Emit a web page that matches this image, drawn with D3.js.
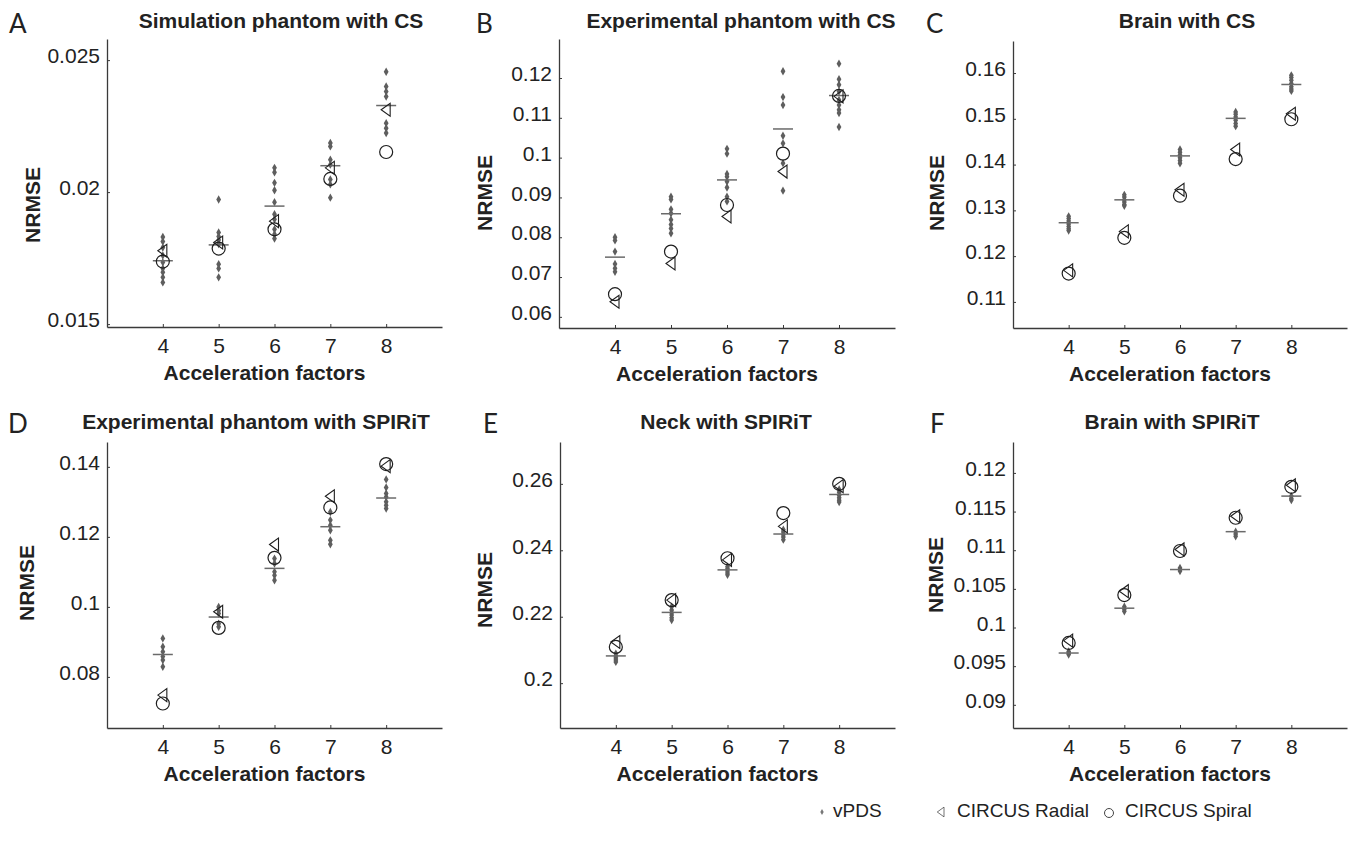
<!DOCTYPE html>
<html>
<head>
<meta charset="utf-8">
<script src="https://cdn.jsdelivr.net/npm/d3@7"></script>
<style>
  body { margin: 0; background: #fff; }
  text { font-family: "Liberation Sans", Arial, sans-serif; fill: #222; }
</style>
</head>
<body>
<script>
// acceleration factors on the x axis
var factors = [4, 5, 6, 7, 8];

var letters = ["A", "B", "C", "D", "E", "F"];
var titles = [
    "Simulation phantom with CS"
  , "Experimental phantom with CS"
  , "Brain with CS"
  , "Experimental phantom with SPIRiT"
  , "Neck with SPIRiT"
  , "Brain with SPIRiT"
];
var legendLabels = ["vPDS", "CIRCUS Radial", "CIRCUS Spiral"];

// y tick labels per panel
var yTicksA = [0.015, 0.02, 0.025]
  , yTicksB = [0.06, 0.07, 0.08, 0.09, 0.1, 0.11, 0.12]
  , yTicksC = [0.11, 0.12, 0.13, 0.14, 0.15, 0.16]
  , yTicksD = [0.08, 0.1, 0.12, 0.14]
  , yTicksE = [0.2, 0.22, 0.24, 0.26]
  , yTicksF = [0.09, 0.095, 0.1, 0.105, 0.11, 0.115, 0.12]
  ;

// A - Simulation phantom with CS
var vpdsA = [
    [0.0183, 0.01813, 0.0179, 0.0176, 0.01734, 0.01711, 0.01696, 0.01677, 0.01658]
  , [0.01972, 0.01847, 0.01832, 0.01819, 0.01803, 0.01727, 0.01711, 0.01677]
  , [0.02092, 0.02075, 0.02035, 0.02007, 0.01962, 0.01916, 0.01897, 0.01859, 0.0184, 0.01824]
  , [0.02186, 0.02173, 0.02123, 0.02104, 0.02048, 0.02029, 0.01979]
  , [0.02456, 0.024, 0.02381, 0.02362, 0.02261, 0.02242, 0.02224]
];
var meanA = [0.0174, 0.0180, 0.01947, 0.0210, 0.02328]
  , radialA = [0.01778, 0.01809, 0.0189, 0.02092, 0.02312]
  , spiralA = [0.01737, 0.01786, 0.01859, 0.0205, 0.02152]
  ;

// B - Experimental phantom with CS
var vpdsB = [
    [0.0800, 0.0792, 0.0764, 0.0733, 0.0722, 0.0713]
  , [0.0902, 0.0895, 0.0870, 0.0860, 0.0844, 0.0832, 0.0822, 0.0810]
  , [0.1022, 0.1010, 0.0959, 0.0952, 0.0940, 0.0925, 0.0902, 0.0890]
  , [0.1217, 0.1152, 0.1132, 0.1055, 0.1036, 0.0986, 0.0917]
  , [0.1236, 0.1197, 0.1183, 0.1166, 0.1145, 0.1132, 0.1120, 0.1112, 0.1077]
];
var meanB = [0.0750, 0.0859, 0.0944, 0.1072, 0.1156]
  , radialB = [0.0638, 0.0734, 0.0852, 0.0965, 0.1154]
  , spiralB = [0.0657, 0.0764, 0.0881, 0.1010, 0.1155]
  ;

// C - Brain with CS
var vpdsC = [
    [0.1287, 0.1282, 0.1277, 0.1270, 0.1265, 0.1260, 0.1256]
  , [0.1334, 0.1329, 0.1323, 0.1318, 0.1313, 0.1310]
  , [0.1433, 0.1427, 0.1421, 0.1415, 0.1409, 0.1403]
  , [0.1515, 0.1510, 0.1504, 0.1497, 0.1490, 0.1484]
  , [0.1595, 0.1590, 0.1584, 0.1577, 0.1570, 0.1565, 0.1561]
];
var meanC = [0.1273, 0.1323, 0.1419, 0.1501, 0.1575]
  , radialC = [0.1169, 0.1254, 0.1345, 0.1433, 0.1511]
  , spiralC = [0.1162, 0.1240, 0.1332, 0.1412, 0.1499]
  ;

// D - Experimental phantom with SPIRiT
var vpdsD = [
    [0.0910, 0.0886, 0.0872, 0.0858, 0.0848, 0.0829]
  , [0.1000, 0.0990, 0.0981, 0.0952, 0.0943]
  , [0.1138, 0.1124, 0.1100, 0.1090, 0.1076]
  , [0.1271, 0.1248, 0.1233, 0.1219, 0.1190, 0.1179]
  , [0.1364, 0.1341, 0.1324, 0.1314, 0.1300, 0.1290, 0.1281]
];
var meanD = [0.0864, 0.0971, 0.1110, 0.1229, 0.1311]
  , radialD = [0.0748, 0.0986, 0.1178, 0.1316, 0.1402]
  , spiralD = [0.0724, 0.0940, 0.1140, 0.1284, 0.1408]
  ;

// E - Neck with SPIRiT
var vpdsE = [
    [0.2089, 0.2082, 0.2076, 0.2070, 0.2064]
  , [0.2230, 0.2220, 0.2212, 0.2205, 0.2197, 0.2190]
  , [0.2351, 0.2345, 0.2338, 0.2332, 0.2326]
  , [0.2462, 0.2455, 0.2447, 0.2440, 0.2432]
  , [0.2583, 0.2575, 0.2566, 0.2558, 0.2551, 0.2545]
];
var meanE = [0.2082, 0.2213, 0.2341, 0.2449, 0.2568]
  , radialE = [0.2124, 0.2250, 0.2371, 0.2472, 0.2593]
  , spiralE = [0.2109, 0.2250, 0.2376, 0.2512, 0.2600]
  ;

// F - Brain with SPIRiT
var vpdsF = [
    [0.0969, 0.0967, 0.0965]
  , [0.1027, 0.1024, 0.1021]
  , [0.1077, 0.1075, 0.1073]
  , [0.1124, 0.1121, 0.1118]
  , [0.1170, 0.1167, 0.1165]
];
var meanF = [0.0967, 0.1025, 0.1075, 0.1124, 0.1170]
  , radialF = [0.0983, 0.1047, 0.1101, 0.1144, 0.1184]
  , spiralF = [0.0980, 0.1042, 0.1099, 0.1142, 0.1182]
  ;

var width = 1351
  , height = 843
  , axisColor = "#3a3a3a"
  , dotColor = "#5e5e5e"
  , markColor = "#1e1e1e"
  , fontSize = "21px"
  ;

// layout: plot box and y range of each panel, plus label spots
var panels = [
    { left: 107, right: 442, top: 39, bottom: 327, ydom: [0.01489, 0.0258], ticks: yTicksA, vpds: vpdsA, mean: meanA, radial: radialA, spiral: spiralA, lx: 9, ly: 33, tx: 281, ty: 28, nx: 33, ny: 205 }
  , { left: 559, right: 895, top: 39, bottom: 328, ydom: [0.0572, 0.1298], ticks: yTicksB, vpds: vpdsB, mean: meanB, radial: radialB, spiral: spiralB, lx: 476, ly: 33, tx: 741, ty: 28, nx: 485, ny: 193 }
  , { left: 1013, right: 1347, top: 41, bottom: 328, ydom: [0.1043, 0.167], ticks: yTicksC, vpds: vpdsC, mean: meanC, radial: radialC, spiral: spiralC, lx: 926, ly: 33, tx: 1187, ty: 28, nx: 937, ny: 193 }
  , { left: 107, right: 442, top: 442, bottom: 728, ydom: [0.0654, 0.1471], ticks: yTicksD, vpds: vpdsD, mean: meanD, radial: radialD, spiral: spiralD, lx: 8, ly: 433, tx: 256, ty: 429, nx: 27, ny: 583 }
  , { left: 560, right: 895, top: 442, bottom: 728, ydom: [0.1865, 0.2726], ticks: yTicksE, vpds: vpdsE, mean: meanE, radial: radialE, spiral: spiralE, lx: 483, ly: 433, tx: 726, ty: 429, nx: 485, ny: 590 }
  , { left: 1013, right: 1347, top: 442, bottom: 728, ydom: [0.087, 0.124], ticks: yTicksF, vpds: vpdsF, mean: meanF, radial: radialF, spiral: spiralF, lx: 930, ly: 433, tx: 1172, ty: 429, nx: 936, ny: 575 }
];

var svg = d3.select("body").append("svg")
    .attr("width", width)
    .attr("height", height);

var diamond = d3.symbol().type(d3.symbolDiamond).size(20)
  , triPath = "M-5,0L4,-6.5L4,6.5Z"   // left pointing
  ;

function drawPanel (p, i) {
    var x = d3.scaleLinear().domain([3, 9]).range([p.left, p.right])
      , y = d3.scaleLinear().domain(p.ydom).range([p.bottom, p.top])
      , g = svg.append("g")
      ;

    // panel letter and title
    g.append("text")
        .attr("x", p.lx).attr("y", p.ly)
        .style("font-family", "Lato, 'Open Sans', sans-serif")
        .style("font-size", "26px")
        .text(letters[i]);
    g.append("text")
        .attr("x", p.tx).attr("y", p.ty)
        .attr("text-anchor", "middle")
        .style("font-weight", "bold")
        .style("font-size", fontSize)
        .text(titles[i]);

    // axes
    var yAxis = g.append("g")
        .attr("transform", "translate(" + p.left + ",0)")
        .call(d3.axisLeft(y).tickValues(p.ticks).tickFormat(d3.format("~g"))
            .tickSize(-3).tickSizeOuter(0).tickPadding(7));
    yAxis.selectAll("text").attr("y", -4);

    g.append("g")
        .attr("transform", "translate(0," + p.bottom + ")")
        .call(d3.axisBottom(x).tickValues(factors).tickFormat(d3.format("d"))
            .tickSize(-3).tickSizeOuter(0).tickPadding(11));

    g.selectAll(".domain").attr("stroke", axisColor).attr("stroke-width", 1.3);
    g.selectAll(".tick line").attr("stroke", axisColor);
    g.selectAll(".tick text")
        .style("font-family", "'Liberation Sans', Arial, sans-serif")
        .style("font-size", fontSize)
        .attr("fill", "#222");

    g.append("text")
        .attr("x", x(6) - 10).attr("y", p.bottom + 53)
        .attr("text-anchor", "middle")
        .style("font-weight", "bold")
        .style("font-size", fontSize)
        .text("Acceleration factors");
    g.append("text")
        .attr("transform", "translate(" + (p.nx + 7) + "," + p.ny + ") rotate(-90)")
        .attr("text-anchor", "middle")
        .style("font-weight", "bold")
        .style("font-size", fontSize)
        .text("NRMSE");

    // vPDS points
    factors.forEach(function (f, j) {
        g.selectAll(null)
            .data(p.vpds[j])
          .enter().append("path")
            .attr("d", diamond)
            .attr("fill", dotColor)
            .attr("transform", function (d) { return "translate(" + x(f) + "," + y(d) + ")"; });
    });

    // vPDS mean bars
    g.selectAll(null)
        .data(p.mean)
      .enter().append("line")
        .attr("x1", function (d, j) { return x(factors[j]) - 10; })
        .attr("x2", function (d, j) { return x(factors[j]) + 10; })
        .attr("y1", function (d) { return y(d); })
        .attr("y2", function (d) { return y(d); })
        .attr("stroke", "#6a6a6a")
        .attr("stroke-width", 1.5);

    // CIRCUS radial
    g.selectAll(null)
        .data(p.radial)
      .enter().append("path")
        .attr("d", triPath)
        .attr("fill", "none")
        .attr("stroke", markColor)
        .attr("stroke-width", 1.1)
        .attr("transform", function (d, j) { return "translate(" + x(factors[j]) + "," + y(d) + ")"; });

    // CIRCUS spiral
    g.selectAll(null)
        .data(p.spiral)
      .enter().append("circle")
        .attr("cx", function (d, j) { return x(factors[j]); })
        .attr("cy", function (d) { return y(d); })
        .attr("r", 6.5)
        .attr("fill", "none")
        .attr("stroke", markColor)
        .attr("stroke-width", 1.2);
}

panels.forEach(drawPanel);

// legend
var legend = svg.append("g").style("font-size", "19px");
legend.append("path")
    .attr("d", d3.symbol().type(d3.symbolDiamond).size(10))
    .attr("fill", "#777")
    .attr("transform", "translate(822,812)");
legend.append("path")
    .attr("d", triPath)
    .attr("fill", "none")
    .attr("stroke", "#444")
    .attr("stroke-width", 1)
    .attr("transform", "translate(941,812) scale(0.75)");
legend.append("circle")
    .attr("cx", 1109).attr("cy", 813).attr("r", 4.5)
    .attr("fill", "none")
    .attr("stroke", "#444")
    .attr("stroke-width", 1);
legend.selectAll(null)
    .data(legendLabels)
  .enter().append("text")
    .attr("x", function (d, i) { return [833, 957, 1125][i]; })
    .attr("y", 817)
    .text(function (d) { return d; });
</script>
</body>
</html>
